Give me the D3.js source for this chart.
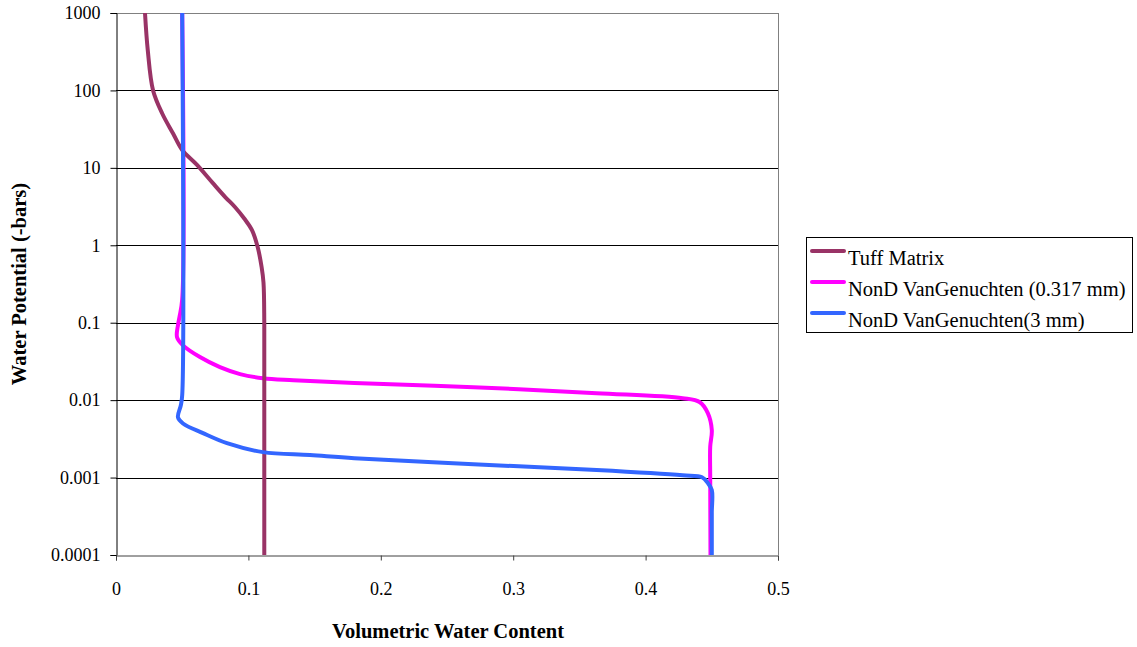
<!DOCTYPE html>
<html>
<head>
<meta charset="utf-8">
<script src="https://cdn.jsdelivr.net/npm/d3@7"></script>
<style>
  body { margin: 0; background: #fff; }
  svg { display: block; }
  text { font-family: "Liberation Serif", "Times New Roman", serif; }
</style>
</head>
<body>
<svg id="chart" width="1137" height="647"></svg>
<script>
// Series values: [water content, potential (-bars)]
var tuffMatrix = [
	[0.0219, 1000], [0.024, 330], [0.028, 100], [0.035, 50], [0.043, 28],
	[0.050, 17], [0.061, 11], [0.073, 6.4], [0.0825, 4.2], [0.090, 3.1],
	[0.097, 2.2], [0.1027, 1.57], [0.107, 0.95], [0.110, 0.52], [0.1114, 0.33],
	[0.112, 0.1], [0.112, 0.01], [0.112, 0.0001]
];
var vgSmall = [
	[0.050, 1000], [0.050, 0.2], [0.048, 0.12], [0.0468, 0.093], [0.0461, 0.065],
	[0.0506, 0.051], [0.0634, 0.036], [0.0785, 0.0267], [0.0937, 0.0217],
	[0.111, 0.0192], [0.134, 0.0181], [0.180, 0.0166], [0.270, 0.0147],
	[0.363, 0.0123], [0.428, 0.0106], [0.441, 0.0094], [0.447, 0.0068],
	[0.450, 0.0041], [0.4488, 0.0025], [0.4488, 0.001], [0.449, 0.0001]
];
var vgLarge = [
	[0.050, 1000], [0.050, 0.0116], [0.049, 0.0086], [0.0468, 0.0060],
	[0.0506, 0.0050], [0.0657, 0.00375], [0.0838, 0.00278], [0.111, 0.00213],
	[0.1465, 0.00195], [0.180, 0.00178], [0.270, 0.00149], [0.363, 0.00125],
	[0.428, 0.00107], [0.4426, 0.00101], [0.447, 0.00085], [0.450, 0.00069],
	[0.450, 0.00035], [0.450, 0.0001]
];
var seriesNames = ["Tuff Matrix", "NonD VanGenuchten (0.317 mm)", "NonD VanGenuchten(3 mm)"];
var seriesColors = ["#993366", "#ff00ff", "#3366ff"];
var xTicks = [0, 0.1, 0.2, 0.3, 0.4, 0.5];
var yTicks = [0.0001, 0.001, 0.01, 0.1, 1, 10, 100, 1000];
var yTickLabels = ["0.0001", "0.001", "0.01", "0.1", "1", "10", "100", "1000"];

var svg = d3.select("#chart");
var plotLeft = 116, plotRight = 778, plotTop = 13, plotBottom = 555;
var serif = "'Liberation Serif', 'Times New Roman', serif";

var x = d3.scaleLinear().domain([0, 0.5]).range([plotLeft, plotRight]);
var y = d3.scaleLog().domain([0.0001, 1000]).range([plotBottom, plotTop]);

// horizontal grid
svg.append("g").selectAll("line")
	.data(yTicks.slice(1))
	.join("line")
	.attr("x1", plotLeft).attr("x2", plotRight)
	.attr("y1", function(d) { return Math.round(y(d)) + 0.5; })
	.attr("y2", function(d) { return Math.round(y(d)) + 0.5; })
	.attr("stroke", function(d) { return d === 1000 ? "#808080" : "#000"; })
	.attr("stroke-width", 1);

// right border
svg.append("line")
	.attr("x1", plotRight + 0.5).attr("x2", plotRight + 0.5)
	.attr("y1", plotTop).attr("y2", plotBottom)
	.attr("stroke", "#808080");

// lines
var line = d3.line()
	.x(function(d) { return x(d[0]); })
	.y(function(d) { return y(d[1]); })
	.curve(d3.curveCatmullRom.alpha(0.5));

var allSeries = [tuffMatrix, vgSmall, vgLarge];
var drawOrder = [1, 0, 2];
drawOrder.forEach(function(i) {
	svg.append("path")
		.datum(allSeries[i])
		.attr("d", line)
		.attr("fill", "none")
		.attr("stroke", seriesColors[i])
		.attr("stroke-width", 4)
		.attr("stroke-linejoin", "round");
});

// y axis
var yAxis = d3.axisLeft(y)
	.tickValues(yTicks)
	.tickFormat(function(d, i) { return yTickLabels[i]; })
	.tickSize(6)
	.tickPadding(10);
var gy = svg.append("g")
	.attr("transform", "translate(" + (plotLeft + 0.5) + ",0)")
	.call(yAxis)
	.attr("font-family", serif)
	.attr("font-size", 18);
gy.selectAll("text").attr("fill", "#000");
gy.selectAll("line, path").attr("stroke", "#000");

// x axis
var xAxis = d3.axisBottom(x)
	.tickValues(xTicks)
	.tickFormat(d3.format("~g"))
	.tickSize(5)
	.tickPadding(22);
var gx = svg.append("g")
	.attr("transform", "translate(0," + (plotBottom + 0.5) + ")")
	.call(xAxis)
	.attr("font-family", serif)
	.attr("font-size", 18);
gx.selectAll("text").attr("fill", "#000");
gx.selectAll("line, path").attr("stroke", "#404040");

// axis titles
svg.append("text")
	.attr("x", 448).attr("y", 638)
	.attr("text-anchor", "middle")
	.style("font-size", "20.5px").style("font-weight", "bold")
	.text("Volumetric Water Content");

svg.append("text")
	.attr("transform", "translate(26,284) rotate(-90)")
	.attr("text-anchor", "middle")
	.style("font-size", "20.5px").style("font-weight", "bold")
	.text("Water Potential (-bars)");

// legend
var legend = svg.append("g");
legend.append("rect")
	.attr("x", 806.5).attr("y", 237.5)
	.attr("width", 326).attr("height", 95)
	.attr("fill", "#fff").attr("stroke", "#000");
seriesNames.forEach(function(name, i) {
	var ly = 251 + i * 31;
	legend.append("line")
		.attr("x1", 812).attr("x2", 844)
		.attr("y1", ly).attr("y2", ly)
		.attr("stroke", seriesColors[i]).attr("stroke-width", 4)
		.attr("stroke-linecap", "round");
	legend.append("text")
		.attr("x", 848).attr("y", ly + 14)
		.style("font-size", "20.5px")
		.text(name);
});
</script>
</body>
</html>
